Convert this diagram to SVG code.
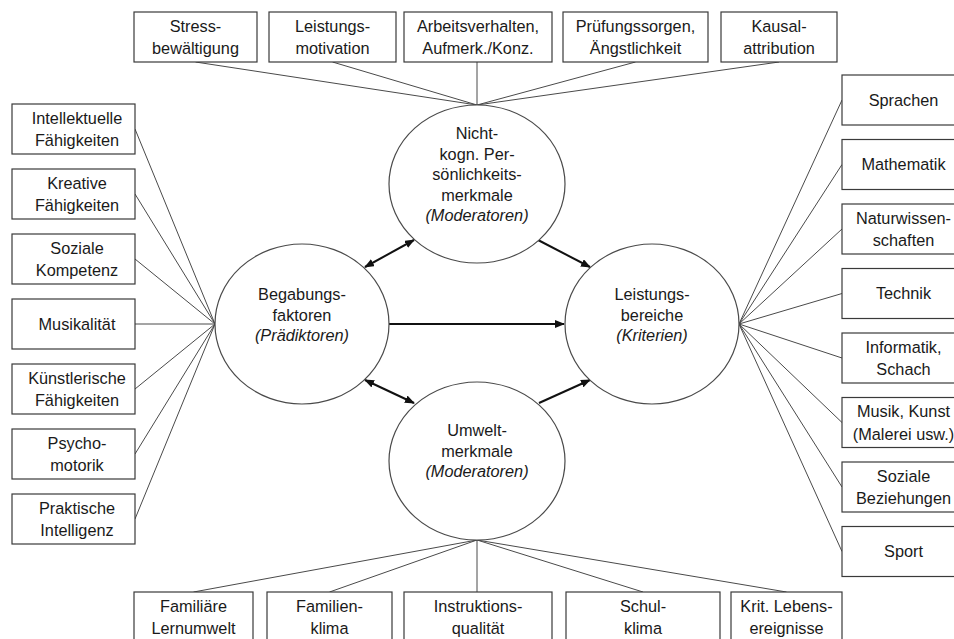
<svg xmlns="http://www.w3.org/2000/svg" width="954" height="639" viewBox="0 0 954 639">
  <style>
    .box { fill: #ffffff; stroke: #3a3a3a; stroke-width: 1.2; }
    .oval { fill: #ffffff; stroke: #4a4a4a; stroke-width: 1.2; }
    .link { stroke: #4a4a4a; stroke-width: 1; fill: none; }
    .arrow { stroke: #111111; stroke-width: 2; fill: none; }
    text { font-family: "Liberation Sans", Arial, sans-serif; font-size: 16.3px; fill: #1a1a1a; text-anchor: middle; }
    .it { font-style: italic; }
  </style>
  <defs>
    <marker id="head" markerWidth="10" markerHeight="8" refX="9" refY="4" orient="auto-start-reverse" markerUnits="userSpaceOnUse">
      <path d="M0,0 L10,4 L0,8 z" fill="#111111"/>
    </marker>
  </defs>
  <rect width="954" height="639" fill="#ffffff"/>

  <!-- connectors -->
  <g id="connectors">
    <!-- top factors to personality oval -->
    <line class="link" x1="195.5" y1="62" x2="477" y2="105"/>
    <line class="link" x1="332.5" y1="62" x2="477" y2="105"/>
    <line class="link" x1="477" y1="62" x2="477" y2="105"/>
    <line class="link" x1="635.5" y1="62" x2="477" y2="105"/>
    <line class="link" x1="779" y1="62" x2="477" y2="105"/>
    <!-- left factors to ability oval -->
    <line class="link" x1="135" y1="129" x2="215" y2="324"/>
    <line class="link" x1="135" y1="194" x2="215" y2="324"/>
    <line class="link" x1="135" y1="259" x2="215" y2="324"/>
    <line class="link" x1="135" y1="324" x2="215" y2="324"/>
    <line class="link" x1="135" y1="389" x2="215" y2="324"/>
    <line class="link" x1="135" y1="454" x2="215" y2="324"/>
    <line class="link" x1="135" y1="519" x2="215" y2="324"/>
    <!-- performance oval to domains -->
    <line class="link" x1="739" y1="324" x2="842" y2="100"/>
    <line class="link" x1="739" y1="324" x2="842" y2="164.5"/>
    <line class="link" x1="739" y1="324" x2="842" y2="229"/>
    <line class="link" x1="739" y1="324" x2="842" y2="293.5"/>
    <line class="link" x1="739" y1="324" x2="842" y2="358"/>
    <line class="link" x1="739" y1="324" x2="842" y2="422.5"/>
    <line class="link" x1="739" y1="324" x2="842" y2="487"/>
    <line class="link" x1="739" y1="324" x2="842" y2="551.5"/>
    <!-- environment oval to bottom factors -->
    <line class="link" x1="477" y1="540" x2="193.5" y2="592"/>
    <line class="link" x1="477" y1="540" x2="329.5" y2="592"/>
    <line class="link" x1="477" y1="540" x2="477" y2="592"/>
    <line class="link" x1="477" y1="540" x2="643" y2="592"/>
    <line class="link" x1="477" y1="540" x2="786.5" y2="592"/>
    <!-- causal arrows between ovals -->
    <line class="arrow" x1="389" y1="324" x2="564" y2="324" marker-end="url(#head)"/>
    <line class="arrow" x1="365" y1="267" x2="414" y2="240" marker-start="url(#head)" marker-end="url(#head)"/>
    <line class="arrow" x1="538" y1="240" x2="590" y2="267" marker-end="url(#head)"/>
    <line class="arrow" x1="365" y1="380" x2="414" y2="403" marker-start="url(#head)" marker-end="url(#head)"/>
    <line class="arrow" x1="539" y1="403" x2="590" y2="380" marker-end="url(#head)"/>
  </g>

  <!-- central ovals -->
  <g id="personality">
    <ellipse class="oval" cx="477" cy="184" rx="88" ry="79"/>
    <text x="477" y="139">Nicht-</text>
    <text x="477" y="159.5">kogn. Per-</text>
    <text x="477" y="180">sönlichkeits-</text>
    <text x="477" y="200.5">merkmale</text>
    <text x="477" y="221" class="it">(Moderatoren)</text>
  </g>
  <g id="ability">
    <ellipse class="oval" cx="302" cy="324" rx="87" ry="80"/>
    <text x="302" y="300">Begabungs-</text>
    <text x="302" y="320.5">faktoren</text>
    <text x="302" y="341" class="it">(Prädiktoren)</text>
  </g>
  <g id="performance">
    <ellipse class="oval" cx="652" cy="324" rx="87" ry="80"/>
    <text x="652" y="300">Leistungs-</text>
    <text x="652" y="320.5">bereiche</text>
    <text x="652" y="341" class="it">(Kriterien)</text>
  </g>
  <g id="environment">
    <ellipse class="oval" cx="477" cy="461" rx="88" ry="79"/>
    <text x="477" y="436">Umwelt-</text>
    <text x="477" y="456.5">merkmale</text>
    <text x="477" y="477" class="it">(Moderatoren)</text>
  </g>

  <!-- top row: non-cognitive personality traits -->
  <g id="stress">
    <rect class="box" x="134" y="12" width="123" height="50"/>
    <text x="195.5" y="31.5">Stress-</text>
    <text x="195.5" y="54">bewältigung</text>
  </g>
  <g id="motivation">
    <rect class="box" x="269" y="12" width="127" height="50"/>
    <text x="332.5" y="31.5">Leistungs-</text>
    <text x="332.5" y="54">motivation</text>
  </g>
  <g id="work-habits">
    <rect class="box" x="404" y="12" width="148" height="50"/>
    <text x="478" y="31.5">Arbeitsverhalten,</text>
    <text x="478" y="54">Aufmerk./Konz.</text>
  </g>
  <g id="test-anxiety">
    <rect class="box" x="563" y="12" width="145" height="50"/>
    <text x="635.5" y="31.5">Prüfungssorgen,</text>
    <text x="635.5" y="54">Ängstlichkeit</text>
  </g>
  <g id="attribution">
    <rect class="box" x="721" y="12" width="116" height="50"/>
    <text x="779" y="31.5">Kausal-</text>
    <text x="779" y="54">attribution</text>
  </g>

  <!-- left column: ability factors -->
  <g id="intellectual">
    <rect class="box" x="12" y="104" width="123" height="50"/>
    <text x="77" y="123.5">Intellektuelle</text>
    <text x="77" y="146">Fähigkeiten</text>
  </g>
  <g id="creative">
    <rect class="box" x="12" y="169" width="123" height="50"/>
    <text x="77" y="188.5">Kreative</text>
    <text x="77" y="211">Fähigkeiten</text>
  </g>
  <g id="social-competence">
    <rect class="box" x="12" y="234" width="123" height="50"/>
    <text x="77" y="253.5">Soziale</text>
    <text x="77" y="276">Kompetenz</text>
  </g>
  <g id="musicality">
    <rect class="box" x="12" y="299" width="123" height="50"/>
    <text x="77" y="329.5">Musikalität</text>
  </g>
  <g id="artistic">
    <rect class="box" x="12" y="364" width="123" height="50"/>
    <text x="77" y="383.5">Künstlerische</text>
    <text x="77" y="406">Fähigkeiten</text>
  </g>
  <g id="psychomotor">
    <rect class="box" x="12" y="429" width="123" height="50"/>
    <text x="77" y="448.5">Psycho-</text>
    <text x="77" y="471">motorik</text>
  </g>
  <g id="practical">
    <rect class="box" x="12" y="494" width="123" height="50"/>
    <text x="77" y="513.5">Praktische</text>
    <text x="77" y="536">Intelligenz</text>
  </g>

  <!-- right column: performance domains -->
  <g id="languages">
    <rect class="box" x="842" y="75" width="123" height="50"/>
    <text x="903.5" y="105.5">Sprachen</text>
  </g>
  <g id="mathematics">
    <rect class="box" x="842" y="139.5" width="123" height="50"/>
    <text x="903.5" y="170">Mathematik</text>
  </g>
  <g id="sciences">
    <rect class="box" x="842" y="204" width="123" height="50"/>
    <text x="903.5" y="223.5">Naturwissen-</text>
    <text x="903.5" y="246">schaften</text>
  </g>
  <g id="technology">
    <rect class="box" x="842" y="268.5" width="123" height="50"/>
    <text x="903.5" y="299">Technik</text>
  </g>
  <g id="computing">
    <rect class="box" x="842" y="333" width="123" height="50"/>
    <text x="903.5" y="352.5">Informatik,</text>
    <text x="903.5" y="375">Schach</text>
  </g>
  <g id="arts">
    <rect class="box" x="842" y="397.5" width="123" height="50"/>
    <text x="903.5" y="417">Musik, Kunst</text>
    <text x="903.5" y="439.5">(Malerei usw.)</text>
  </g>
  <g id="social-relations">
    <rect class="box" x="842" y="462" width="123" height="50"/>
    <text x="903.5" y="481.5">Soziale</text>
    <text x="903.5" y="504">Beziehungen</text>
  </g>
  <g id="sport">
    <rect class="box" x="842" y="526.5" width="123" height="50"/>
    <text x="903.5" y="557">Sport</text>
  </g>

  <!-- bottom row: environmental factors -->
  <g id="family-learning">
    <rect class="box" x="134" y="592" width="119" height="52"/>
    <text x="193.5" y="611.5">Familiäre</text>
    <text x="193.5" y="634">Lernumwelt</text>
  </g>
  <g id="family-climate">
    <rect class="box" x="267" y="592" width="125" height="52"/>
    <text x="329.5" y="611.5">Familien-</text>
    <text x="329.5" y="634">klima</text>
  </g>
  <g id="instruction">
    <rect class="box" x="404" y="592" width="148" height="52"/>
    <text x="478" y="611.5">Instruktions-</text>
    <text x="478" y="634">qualität</text>
  </g>
  <g id="school-climate">
    <rect class="box" x="566" y="592" width="154" height="52"/>
    <text x="643" y="611.5">Schul-</text>
    <text x="643" y="634">klima</text>
  </g>
  <g id="life-events">
    <rect class="box" x="731" y="592" width="111" height="52"/>
    <text x="786.5" y="611.5">Krit. Lebens-</text>
    <text x="786.5" y="634">ereignisse</text>
  </g>
</svg>
